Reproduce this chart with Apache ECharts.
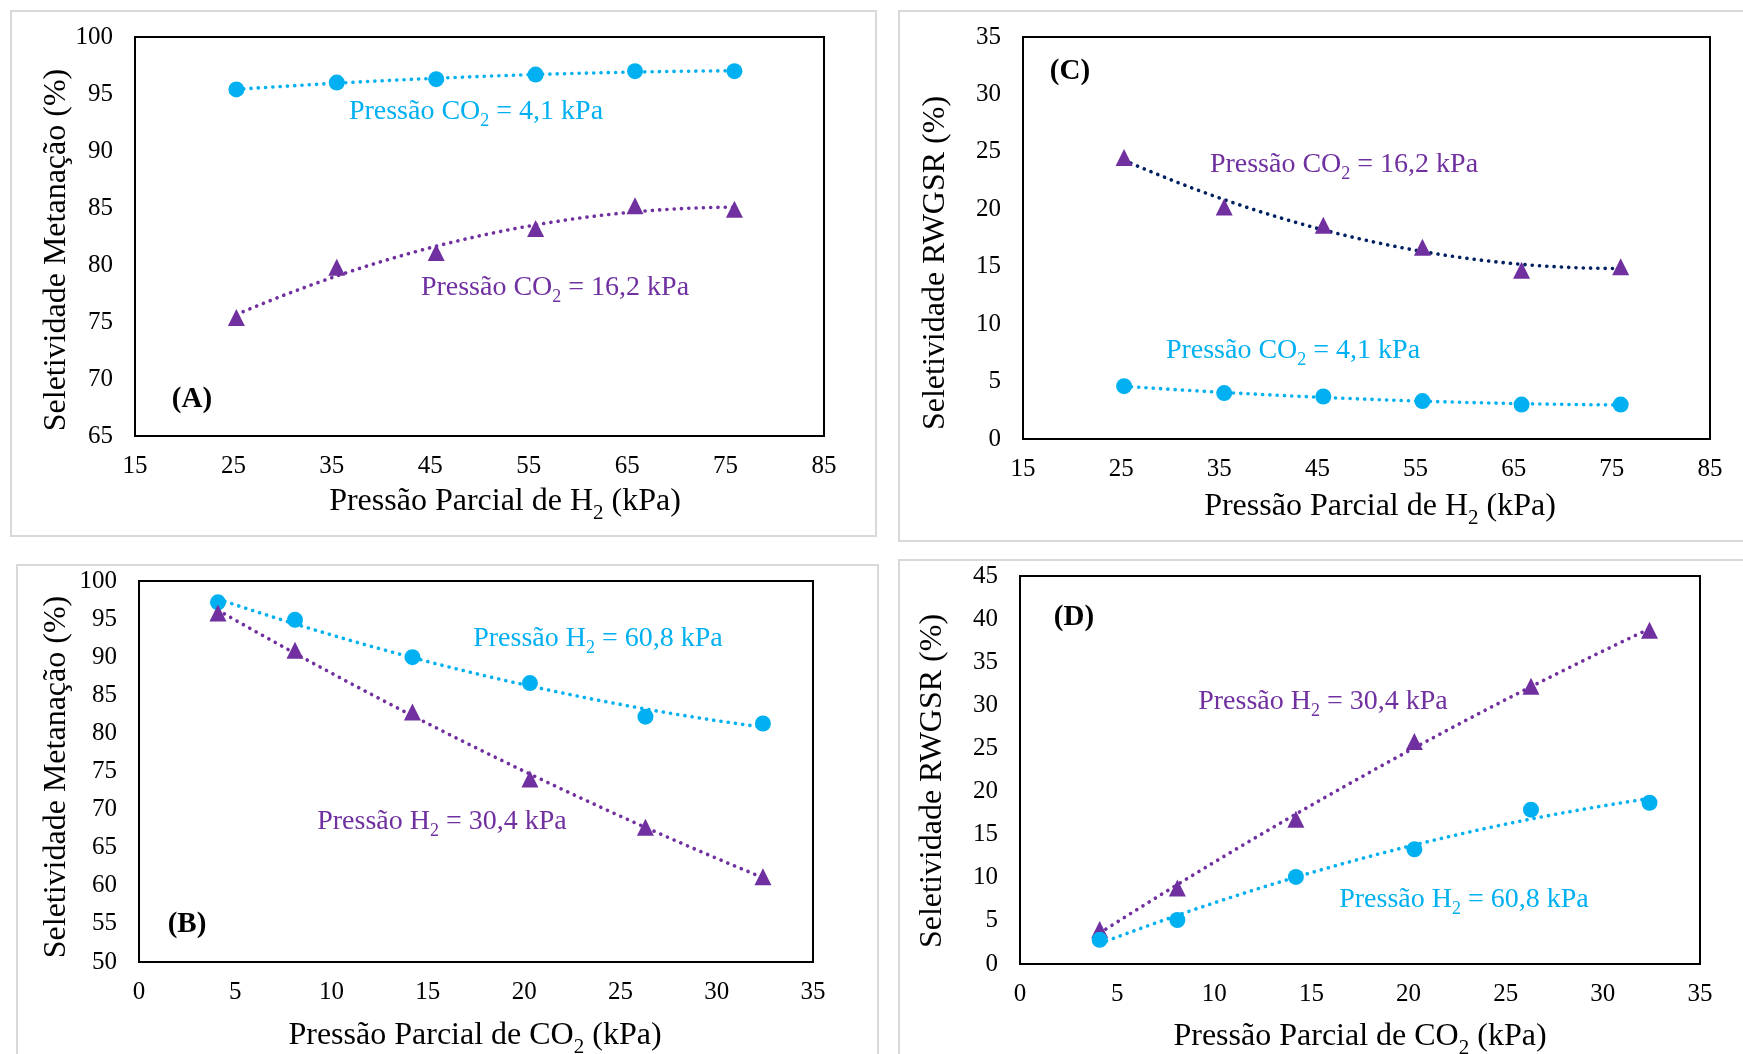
<!DOCTYPE html>
<html>
<head>
<meta charset="utf-8">
<script src="https://cdn.jsdelivr.net/npm/echarts@6/dist/echarts.min.js"></script>
<style>
html,body{margin:0;padding:0;background:#fff;}
#chart{width:1743px;height:1054px;}
</style>
</head>
<body>
<div id="chart"></div>
<script>
// ---------- data ----------
const xH2 = [25.3, 35.5, 45.6, 55.7, 65.8, 75.9];           // Pressão parcial de H2 (kPa)
const metA_CO2_4_1 = [95.4, 96.0, 96.3, 96.7, 97.0, 97.0];   // (A) CO2 = 4,1 kPa
const metA_CO2_16_2 = [75.4, 79.8, 81.1, 83.2, 85.2, 84.9];  // (A) CO2 = 16,2 kPa
const rwC_CO2_16_2 = [24.5, 20.2, 18.6, 16.7, 14.7, 15.0];   // (C) CO2 = 16,2 kPa
const rwC_CO2_4_1 = [4.6, 4.0, 3.7, 3.3, 3.0, 3.0];          // (C) CO2 = 4,1 kPa

const xCO2 = [4.1, 8.1, 14.2, 20.3, 26.3, 32.4];             // Pressão parcial de CO2 (kPa)
const metB_H2_60_8 = [97.2, 94.9, 90.0, 86.6, 82.2, 81.3];   // (B) H2 = 60,8 kPa
const metB_H2_30_4 = [95.8, 90.9, 82.8, 74.0, 67.7, 61.2];   // (B) H2 = 30,4 kPa
const rwD_H2_30_4 = [4.0, 8.8, 16.8, 25.8, 32.2, 38.7];      // (D) H2 = 30,4 kPa
const rwD_H2_60_8 = [2.8, 5.1, 10.1, 13.3, 17.9, 18.7];      // (D) H2 = 60,8 kPa

// tick labels
const xTicksH2 = [15, 25, 35, 45, 55, 65, 75, 85];
const xTicksCO2 = [0, 5, 10, 15, 20, 25, 30, 35];
const yTicksA = [65, 70, 75, 80, 85, 90, 95, 100];
const yTicksB = [50, 55, 60, 65, 70, 75, 80, 85, 90, 95, 100];
const yTicksC = [0, 5, 10, 15, 20, 25, 30, 35];
const yTicksD = [0, 5, 10, 15, 20, 25, 30, 35, 40, 45];

// ---------- helpers ----------
const FONT = '"Liberation Serif","Times New Roman",serif';
const CYAN = '#00B0F0', PURPLE = '#7030A0', NAVY = '#002060';

function pairs(xs, ys) { return xs.map((x, i) => [x, ys[i]]); }

// Excel-style polynomial (order 2) trendline: least-squares fit of the data
function quadTrend(xs, ys) {
  let n = xs.length, sx = 0, sx2 = 0, sx3 = 0, sx4 = 0, sy = 0, sxy = 0, sx2y = 0;
  for (let i = 0; i < n; i++) {
    const x = xs[i], y = ys[i];
    sx += x; sx2 += x * x; sx3 += x * x * x; sx4 += x * x * x * x;
    sy += y; sxy += x * y; sx2y += x * x * y;
  }
  const M = [[n, sx, sx2, sy], [sx, sx2, sx3, sxy], [sx2, sx3, sx4, sx2y]];
  for (let c = 0; c < 3; c++) {
    for (let r = c + 1; r < 3; r++) {
      const f = M[r][c] / M[c][c];
      for (let k = c; k < 4; k++) M[r][k] -= f * M[c][k];
    }
  }
  const b = [0, 0, 0];
  for (let r = 2; r >= 0; r--) {
    let s = M[r][3];
    for (let k = r + 1; k < 3; k++) s -= M[r][k] * b[k];
    b[r] = s / M[r][r];
  }
  const out = [], x0 = xs[0], x1 = xs[n - 1], steps = 80;
  for (let i = 0; i <= steps; i++) {
    const x = x0 + (x1 - x0) * i / steps;
    out.push([x, b[0] + b[1] * x + b[2] * x * x]);
  }
  return out;
}

function axisX(idx, ticks) {
  return {
    type: 'value', gridIndex: idx, min: ticks[0], max: ticks[ticks.length - 1],
    interval: ticks[1] - ticks[0],
    axisLine: { show: true, onZero: false, lineStyle: { color: '#000', width: 2 } },
    axisTick: { show: false }, splitLine: { show: false },
    axisLabel: { color: '#000', fontFamily: FONT, fontSize: 25, margin: 18 }
  };
}
function axisY(idx, ticks) {
  return {
    type: 'value', gridIndex: idx, min: ticks[0], max: ticks[ticks.length - 1],
    interval: ticks[1] - ticks[0],
    axisLine: { show: true, onZero: false, lineStyle: { color: '#000', width: 2 } },
    axisTick: { show: false }, splitLine: { show: false },
    axisLabel: { color: '#000', fontFamily: FONT, fontSize: 25, margin: 22 }
  };
}
function scatter(idx, xs, ys, color, symbol) {
  return {
    type: 'scatter', xAxisIndex: idx, yAxisIndex: idx, data: pairs(xs, ys),
    symbol: symbol, symbolSize: symbol === 'triangle' ? 17 : 16,
    itemStyle: { color: color, opacity: 1 }, z: 5, silent: true
  };
}
function trend(idx, xs, ys, color) {
  return {
    type: 'line', xAxisIndex: idx, yAxisIndex: idx, data: quadTrend(xs, ys),
    showSymbol: false, symbol: 'none', smooth: false, silent: true, z: 3,
    lineStyle: { color: color, width: 3.6, type: [0.1, 7.2], cap: 'round' }
  };
}

const SUB_T = { fontSize: 21, fontFamily: FONT, padding: [22, 0, 0, 0] };
const SUB_L = { fontSize: 18, fontFamily: FONT, padding: [19, 0, 0, 0] };

function txt(x, y, text, opts) {
  opts = opts || {};
  return {
    type: 'text', x: x, y: y, rotation: opts.rot || 0, z: 10, silent: true,
    style: {
      text: text, fill: opts.color || '#000', fontFamily: FONT,
      fontSize: opts.size || 28, fontWeight: opts.bold ? 'bold' : 'normal',
      align: 'center', verticalAlign: 'middle',
      rich: { s: opts.size === 32 ? Object.assign({ fill: opts.color || '#000' }, SUB_T) : Object.assign({ fill: opts.color || '#000' }, SUB_L) }
    }
  };
}
function frame(x, y, w, h) {
  return { type: 'rect', shape: { x: x, y: y, width: w, height: h }, z: 0, silent: true,
    style: { fill: 'none', stroke: '#d9d9d9', lineWidth: 2 } };
}

const chart = echarts.init(document.getElementById('chart'), null, { renderer: 'canvas' });

const option = {
  backgroundColor: '#fff',
  animation: false,
  grid: [
    { left: 135, top: 37, width: 689, height: 399, show: true, borderColor: '#000', borderWidth: 2 },   // A
    { left: 1023, top: 37, width: 687, height: 402, show: true, borderColor: '#000', borderWidth: 2 },  // C
    { left: 139, top: 581, width: 674, height: 381, show: true, borderColor: '#000', borderWidth: 2 },  // B
    { left: 1020, top: 576, width: 680, height: 388, show: true, borderColor: '#000', borderWidth: 2 }  // D
  ],
  xAxis: [axisX(0, xTicksH2), axisX(1, xTicksH2), axisX(2, xTicksCO2), axisX(3, xTicksCO2)],
  yAxis: [axisY(0, yTicksA), axisY(1, yTicksC), axisY(2, yTicksB), axisY(3, yTicksD)],
  series: [
    trend(0, xH2, metA_CO2_4_1, CYAN), scatter(0, xH2, metA_CO2_4_1, CYAN, 'circle'),
    trend(0, xH2, metA_CO2_16_2, PURPLE), scatter(0, xH2, metA_CO2_16_2, PURPLE, 'triangle'),
    trend(1, xH2, rwC_CO2_16_2, NAVY), scatter(1, xH2, rwC_CO2_16_2, PURPLE, 'triangle'),
    trend(1, xH2, rwC_CO2_4_1, CYAN), scatter(1, xH2, rwC_CO2_4_1, CYAN, 'circle'),
    trend(2, xCO2, metB_H2_60_8, CYAN), scatter(2, xCO2, metB_H2_60_8, CYAN, 'circle'),
    trend(2, xCO2, metB_H2_30_4, PURPLE), scatter(2, xCO2, metB_H2_30_4, PURPLE, 'triangle'),
    trend(3, xCO2, rwD_H2_30_4, PURPLE), scatter(3, xCO2, rwD_H2_30_4, PURPLE, 'triangle'),
    trend(3, xCO2, rwD_H2_60_8, CYAN), scatter(3, xCO2, rwD_H2_60_8, CYAN, 'circle')
  ],
  graphic: [
    frame(11, 11, 865, 525),
    frame(899, 11, 860, 530),
    frame(17, 565, 861, 500),
    frame(899, 560, 860, 510),
    // Panel A
    txt(57, 250, 'Seletividade Metanação (%)', { size: 32, rot: Math.PI / 2 }),
    txt(505, 502, 'Pressão Parcial de H{s|2} (kPa)', { size: 32 }),
    txt(476, 112, 'Pressão CO{s|2} = 4,1 kPa', { color: CYAN }),
    txt(555, 288, 'Pressão CO{s|2} = 16,2 kPa', { color: PURPLE }),
    txt(192, 400, '(A)', { size: 29, bold: true }),
    // Panel C
    txt(936, 263, 'Seletividade RWGSR (%)', { size: 32, rot: Math.PI / 2 }),
    txt(1380, 507, 'Pressão Parcial de H{s|2} (kPa)', { size: 32 }),
    txt(1344, 165, 'Pressão CO{s|2} = 16,2 kPa', { color: PURPLE }),
    txt(1293, 351, 'Pressão CO{s|2} = 4,1 kPa', { color: CYAN }),
    txt(1070, 72, '(C)', { size: 29, bold: true }),
    // Panel B
    txt(57, 777, 'Seletividade Metanação (%)', { size: 32, rot: Math.PI / 2 }),
    txt(475, 1036, 'Pressão Parcial de CO{s|2} (kPa)', { size: 32 }),
    txt(598, 639, 'Pressão H{s|2} = 60,8 kPa', { color: CYAN }),
    txt(442, 822, 'Pressão H{s|2} = 30,4 kPa', { color: PURPLE }),
    txt(187, 925, '(B)', { size: 29, bold: true }),
    // Panel D
    txt(933, 781, 'Seletividade RWGSR (%)', { size: 32, rot: Math.PI / 2 }),
    txt(1360, 1037, 'Pressão Parcial de CO{s|2} (kPa)', { size: 32 }),
    txt(1323, 702, 'Pressão H{s|2} = 30,4 kPa', { color: PURPLE }),
    txt(1464, 900, 'Pressão H{s|2} = 60,8 kPa', { color: CYAN }),
    txt(1074, 618, '(D)', { size: 29, bold: true })
  ]
};
chart.setOption(option);
</script>
</body>
</html>
